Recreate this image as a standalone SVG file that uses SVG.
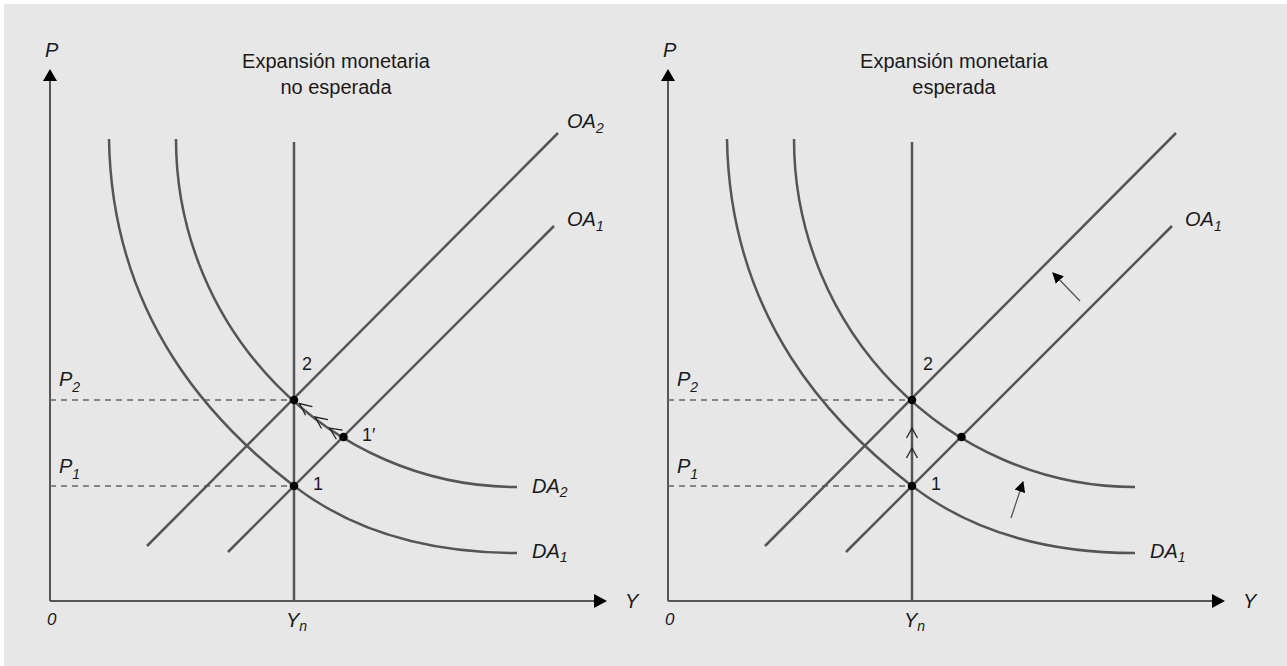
<svg xmlns="http://www.w3.org/2000/svg" width="1287" height="666" viewBox="0 0 1287 666">
  <style>
    .bg { fill: #e7e7e7; }
    .axis { stroke: #555; stroke-width: 2; fill: none; }
    .curve { stroke: #555; stroke-width: 2.5; fill: none; }
    .dash { stroke: #666; stroke-width: 1.3; stroke-dasharray: 6 5; fill: none; }
    .head { fill: #000; }
    .pt { fill: #000; }
    .chev { stroke: #222; stroke-width: 1.3; fill: none; }
    .shift { stroke: #555; stroke-width: 1.3; fill: none; }
    .title { font-family: "Liberation Sans", Arial, sans-serif; font-size: 20px; fill: #1a1a1a; text-anchor: middle; }
    .lab { font-family: "Liberation Sans", Arial, sans-serif; font-size: 20px; font-style: italic; fill: #1a1a1a; }
    .sub { font-size: 14px; }
    .num { font-family: "Liberation Sans", Arial, sans-serif; font-size: 18px; fill: #1a1a1a; }
  </style>
  <defs>
    <marker id="ah" viewBox="0 0 10 10" refX="9" refY="5" markerWidth="11" markerHeight="11" markerUnits="userSpaceOnUse" orient="auto">
      <path d="M0,0 L10,5 L0,10 z" fill="#000"/>
    </marker>
  </defs>

  <rect class="bg" x="4" y="4" width="1283" height="662"/>

  <!-- LEFT PANEL -->
  <g id="left-panel">
    <g id="left-axes">
      <line class="axis" x1="50" y1="601" x2="50" y2="80"/>
      <polygon class="head" points="50,69 43,81 57,81"/>
      <line class="axis" x1="50" y1="601" x2="595" y2="601"/>
      <polygon class="head" points="607,601 594,594 594,608"/>
      <text class="lab" x="45" y="57">P</text>
      <text class="lab" x="625" y="608">Y</text>
      <text class="lab" x="47" y="625" style="font-size:17px">0</text>
      <text class="lab" x="286" y="627">Y<tspan class="sub" dy="4">n</tspan></text>
    </g>
    <g id="left-title">
      <text class="title" x="336" y="68">Expansión monetaria</text>
      <text class="title" x="336" y="94">no esperada</text>
    </g>
    <g id="left-dashes">
      <line class="dash" x1="50" y1="400" x2="293" y2="400"/>
      <line class="dash" x1="50" y1="486" x2="293" y2="486"/>
      <text class="lab" x="59" y="386">P<tspan class="sub" dy="6">2</tspan></text>
      <text class="lab" x="59" y="473">P<tspan class="sub" dy="6">1</tspan></text>
    </g>
    <g id="left-yn">
      <line class="curve" x1="294" y1="142" x2="294" y2="601"/>
    </g>
    <g id="left-oa2">
      <line class="curve" x1="147" y1="546" x2="558" y2="133"/>
      <text class="lab" x="567" y="128">OA<tspan class="sub" dy="5">2</tspan></text>
    </g>
    <g id="left-oa1">
      <line class="curve" x1="228" y1="552" x2="554" y2="226"/>
      <text class="lab" x="567" y="226">OA<tspan class="sub" dy="5">1</tspan></text>
    </g>
    <g id="left-da1">
      <path class="curve" d="M109,139 C112,320 215,425 294,486 C354,532 430,553 517,553"/>
      <text class="lab" x="532" y="558">DA<tspan class="sub" dy="4">1</tspan></text>
    </g>
    <g id="left-da2">
      <path class="curve" d="M176,139 C176,330 330,487 517,487"/>
      <text class="lab" x="532" y="493">DA<tspan class="sub" dy="4">2</tspan></text>
    </g>
    <g id="left-points">
      <circle class="pt" cx="294" cy="400" r="4.3"/>
      <circle class="pt" cx="294" cy="486" r="4.3"/>
      <circle class="pt" cx="343.5" cy="437" r="4.3"/>
      <text class="num" x="302" y="370">2</text>
      <text class="num" x="313" y="490">1</text>
      <text class="num" x="362" y="441">1′</text>
    </g>
  </g>

  <!-- RIGHT PANEL -->
  <g id="right-panel" transform="translate(618,0)">
    <g id="right-axes">
      <line class="axis" x1="50" y1="601" x2="50" y2="80"/>
      <polygon class="head" points="50,69 43,81 57,81"/>
      <line class="axis" x1="50" y1="601" x2="595" y2="601"/>
      <polygon class="head" points="607,601 594,594 594,608"/>
      <text class="lab" x="45" y="57">P</text>
      <text class="lab" x="625" y="608">Y</text>
      <text class="lab" x="47" y="625" style="font-size:17px">0</text>
      <text class="lab" x="286" y="627">Y<tspan class="sub" dy="4">n</tspan></text>
    </g>
    <g id="right-title">
      <text class="title" x="336" y="68">Expansión monetaria</text>
      <text class="title" x="336" y="94">esperada</text>
    </g>
    <g id="right-dashes">
      <line class="dash" x1="50" y1="400" x2="293" y2="400"/>
      <line class="dash" x1="50" y1="486" x2="293" y2="486"/>
      <text class="lab" x="59" y="386">P<tspan class="sub" dy="6">2</tspan></text>
      <text class="lab" x="59" y="473">P<tspan class="sub" dy="6">1</tspan></text>
    </g>
    <g id="right-yn">
      <line class="curve" x1="294" y1="142" x2="294" y2="601"/>
    </g>
    <g id="right-oa2">
      <line class="curve" x1="147" y1="546" x2="558" y2="133"/>
    </g>
    <g id="right-oa1">
      <line class="curve" x1="228" y1="552" x2="554" y2="226"/>
      <text class="lab" x="567" y="226">OA<tspan class="sub" dy="5">1</tspan></text>
    </g>
    <g id="right-da1">
      <path class="curve" d="M109,139 C112,320 215,425 294,486 C354,532 430,553 517,553"/>
      <text class="lab" x="532" y="558">DA<tspan class="sub" dy="4">1</tspan></text>
    </g>
    <g id="right-da2">
      <path class="curve" d="M176,139 C176,330 330,487 517,487"/>
    </g>
    <g id="right-points">
      <circle class="pt" cx="294" cy="400" r="4.3"/>
      <circle class="pt" cx="294" cy="486" r="4.3"/>
      <circle class="pt" cx="343.5" cy="437" r="4.3"/>
      <text class="num" x="305" y="370">2</text>
      <text class="num" x="313" y="490">1</text>
    </g>
  </g>

  <!-- CONNECTORS: movement arrows -->
  <g id="connectors">
    <path class="chev" transform="translate(299.5,403.5) rotate(218)" d="M-12,-5.5 L0,0 L-12,5.5"/>
    <path class="chev" transform="translate(315,417) rotate(216)" d="M-12,-5.5 L0,0 L-12,5.5"/>
    <path class="chev" transform="translate(329.5,428) rotate(214)" d="M-12,-5.5 L0,0 L-12,5.5"/>
    <path class="chev" transform="translate(912,428)" d="M-5.5,10 L0,0 L5.5,10"/>
    <path class="chev" transform="translate(912,448)" d="M-5.5,10 L0,0 L5.5,10"/>
    <line class="shift" x1="1080" y1="301" x2="1053" y2="273" marker-end="url(#ah)"/>
    <line class="shift" x1="1011" y1="518" x2="1023" y2="482" marker-end="url(#ah)"/>
  </g>
</svg>
